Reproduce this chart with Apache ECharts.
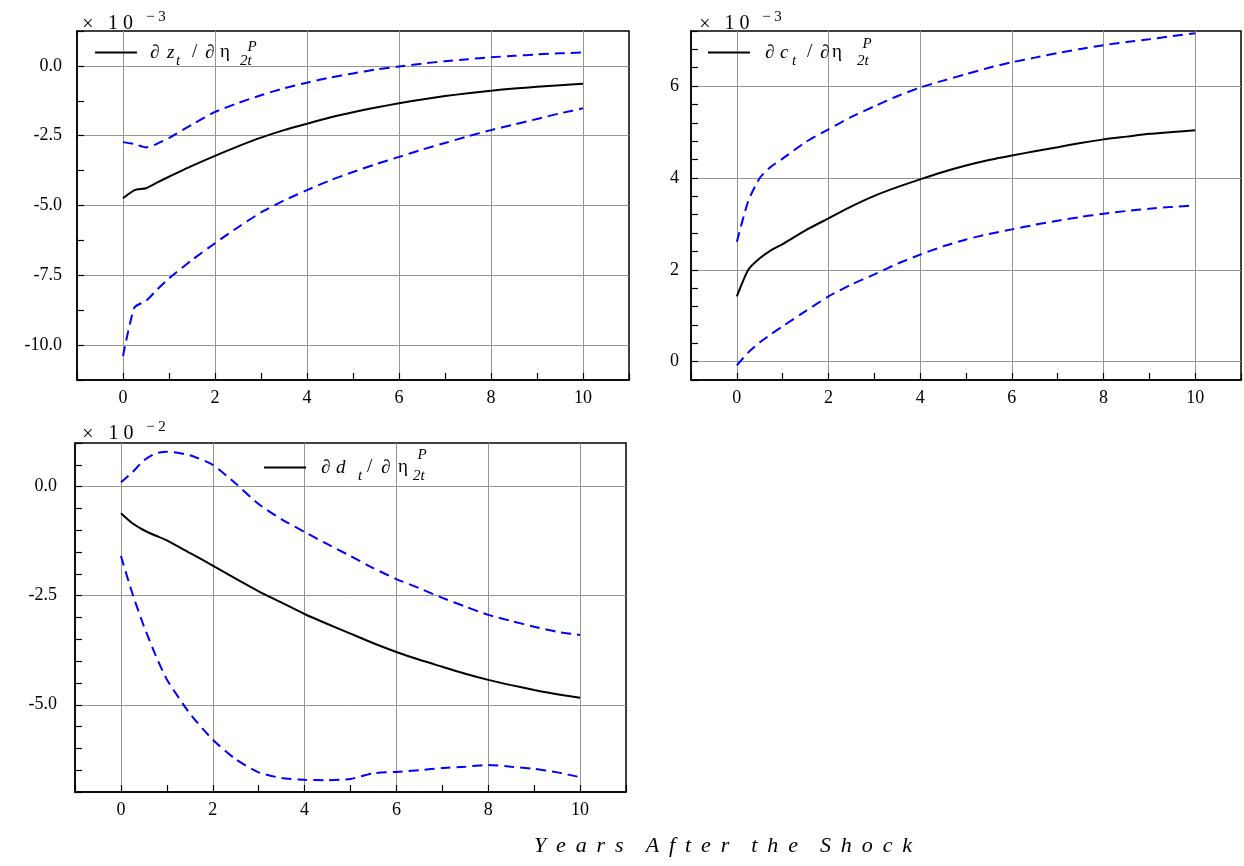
<!DOCTYPE html>
<html><head><meta charset="utf-8">
<script src="https://cdn.jsdelivr.net/npm/echarts@6/dist/echarts.min.js"></script>
<style>html,body{margin:0;padding:0;background:#fff}#c{width:1244px;height:866px}</style>
</head><body><div id="c"></div>
<script>
// ---- data ----
const years = [0,0.25,0.5,0.75,1,1.5,2,2.5,3,3.5,4,4.5,5,5.5,6,6.5,7,7.5,8,8.5,9,9.5,10];
// panel 1: dz/deta (x 10^-3)
const zMid = [-4.74,-4.45,-4.38,-4.17,-3.97,-3.58,-3.22,-2.88,-2.57,-2.30,-2.07,-1.85,-1.66,-1.49,-1.34,-1.20,-1.08,-0.98,-0.89,-0.81,-0.75,-0.69,-0.64];
const zHi  = [-2.73,-2.80,-2.92,-2.78,-2.58,-2.10,-1.65,-1.33,-1.05,-0.80,-0.60,-0.42,-0.27,-0.13,-0.02,0.08,0.17,0.24,0.31,0.36,0.41,0.45,0.48];
const zLo  = [-10.39,-8.65,-8.42,-8.00,-7.61,-6.95,-6.35,-5.78,-5.25,-4.82,-4.45,-4.10,-3.80,-3.52,-3.26,-3.00,-2.76,-2.52,-2.30,-2.10,-1.90,-1.70,-1.52];
// panel 2: dc/deta (x 10^-3)
const cMid = [1.42,2.00,2.25,2.43,2.56,2.86,3.12,3.38,3.61,3.80,3.97,4.13,4.27,4.39,4.49,4.58,4.67,4.76,4.84,4.90,4.96,5.00,5.04];
const cHi  = [2.61,3.50,4.00,4.25,4.42,4.78,5.06,5.33,5.56,5.78,5.97,6.12,6.26,6.40,6.52,6.62,6.72,6.81,6.89,6.96,7.02,7.09,7.15];
const cLo  = [-0.08,0.20,0.42,0.60,0.77,1.10,1.42,1.68,1.90,2.13,2.33,2.51,2.66,2.78,2.88,2.98,3.07,3.15,3.22,3.28,3.33,3.37,3.40];
// panel 3: dd/deta (x 10^-2)
const dMid = [-0.61,-0.84,-1.00,-1.12,-1.23,-1.52,-1.81,-2.11,-2.40,-2.66,-2.92,-3.15,-3.37,-3.59,-3.79,-3.97,-4.13,-4.29,-4.43,-4.55,-4.66,-4.76,-4.84];
const dHi  = [0.10,0.33,0.60,0.76,0.80,0.72,0.50,0.07,-0.40,-0.75,-1.04,-1.32,-1.59,-1.87,-2.12,-2.33,-2.55,-2.75,-2.94,-3.08,-3.21,-3.33,-3.40];
const dLo  = [-1.59,-2.45,-3.20,-3.85,-4.42,-5.20,-5.80,-6.25,-6.55,-6.68,-6.72,-6.73,-6.70,-6.57,-6.54,-6.50,-6.45,-6.42,-6.38,-6.42,-6.47,-6.55,-6.66];
// tick labels
const xTickLabels = [0,2,4,6,8,10];
const zTickLabels = ['0.0','-2.5','-5.0','-7.5','-10.0'];
const cTickLabels = ['0','2','4','6'];
const dTickLabels = ['0.0','-2.5','-5.0'];
const xTitleWords = ['Years','After','the','Shock'];

// ---- chart ----
const SERIF = '"Liberation Serif","DejaVu Serif",serif';
const GRID = '#959595';
const T = 'rgba(0,0,0,0)';
const pairs = (xs, ys) => xs.map((x, i) => [x, ys[i]]);
const near = (a, b) => Math.abs(a - b) < 1e-6;

function xAxis(gi) {
  return {
    type: 'value', gridIndex: gi, min: -1, max: 11, interval: 1,
    axisLine: { show: true, onZero: false, lineStyle: { color: '#000', width: 1.5 } },
    axisTick: { show: true, inside: true, length: 7, lineStyle: { color: '#000', width: 1.2 } },
    axisLabel: {
      margin: 9, color: '#000', fontFamily: SERIF, fontSize: 18,
      formatter: v => { const f = xTickLabels.find(t => near(t, v)); return f === undefined ? '' : String(f); }
    },
    splitLine: { show: true, showMinLine: true, showMaxLine: true, lineStyle: { color: [T, GRID], width: 1 } }
  };
}
function yAxis(gi, min, max, interval, period, offsetIdx, labels, margin) {
  const colors = [];
  for (let i = 0; i < period; i++) colors.push(i === offsetIdx ? GRID : T);
  return {
    type: 'value', gridIndex: gi, min: min, max: max, interval: interval,
    axisLine: { show: true, onZero: false, lineStyle: { color: '#000', width: 1.5 } },
    axisTick: { show: true, inside: true, length: 7, lineStyle: { color: '#000', width: 1.2 } },
    axisLabel: {
      margin: margin, color: '#000', fontFamily: SERIF, fontSize: 18,
      formatter: v => { const f = labels.find(t => near(parseFloat(t), v)); return f === undefined ? '' : f; }
    },
    splitLine: { show: true, showMinLine: true, showMaxLine: true, lineStyle: { color: colors, width: 1 } }
  };
}
function mid(name, gi, ys) {
  return { name: name, type: 'line', xAxisIndex: gi, yAxisIndex: gi, data: pairs(years, ys),
    symbol: 'none', showSymbol: false, smooth: 0.2, silent: true,
    lineStyle: { color: '#000', width: 2 }, itemStyle: { color: '#000' } };
}
function band(name, gi, ys) {
  return { name: name, type: 'line', xAxisIndex: gi, yAxisIndex: gi, data: pairs(years, ys),
    symbol: 'none', showSymbol: false, smooth: 0.2, silent: true,
    lineStyle: { color: '#0000ff', width: 2, type: [10, 6] }, itemStyle: { color: '#0000ff' } };
}
const richBase = {
  m: { fontFamily: SERIF, fontSize: 19, fontStyle: 'italic', color: '#000', lineHeight: 32, verticalAlign: 'middle' },
  s: { fontFamily: SERIF, fontSize: 15, fontStyle: 'italic', color: '#000', lineHeight: 14, verticalAlign: 'bottom' }
};
function legendRich(w) {
  return {
    sp: { width: w[0], lineHeight: 32 },
    a: Object.assign({}, richBase.m, { width: w[1] }),
    v: Object.assign({}, richBase.m, { width: w[2] }),
    t: Object.assign({}, richBase.s, { width: w[3] }),
    sl: Object.assign({}, richBase.m, { width: w[4], fontStyle: 'normal' }),
    b: Object.assign({}, richBase.m, { width: w[5] }),
    e: Object.assign({}, richBase.m, { width: w[6], fontStyle: 'normal' }),
    s: richBase.s
  };
}
function legend(name, left, top, v, w) {
  return {
    data: [name], left: left, top: top, padding: 0, icon: 'rect', itemWidth: 42, itemHeight: 2,
    selectedMode: false,
    formatter: () => '{sp|\u00a0}{a|\u2202}{v|' + v + '}{t|t}{sl|/}{b|\u2202}{e|\u03b7}{s|2t}',
    textStyle: { rich: legendRich(w) }
  };
}
function txt(x, y, s, size, style) {
  return { type: 'text', x: x, y: y, silent: true,
    style: { text: s, fill: '#000', font: (style || '') + ' ' + size + 'px ' + SERIF, align: 'center', verticalAlign: 'middle' } };
}
const spacedTitle = xTitleWords.map(w => w.split('').join(' \u2009')).join('\u2002\u2002');

const option = {
  animation: false,
  backgroundColor: '#fff',
  grid: [
    { left: 77, top: 31, width: 552, height: 349, show: true, borderColor: '#000', borderWidth: 1.5, containLabel: false },
    { left: 691, top: 31, width: 552, height: 349, show: true, borderColor: '#000', borderWidth: 1.5, containLabel: false },
    { left: 75, top: 443, width: 551, height: 349, show: true, borderColor: '#000', borderWidth: 1.5, containLabel: false }
  ],
  xAxis: [xAxis(0), xAxis(1), xAxis(2)],
  yAxis: [
    yAxis(0, -11.25, 1.25, 1.25, 2, 1, zTickLabels, 15),
    yAxis(1, -0.4, 7.2, 0.4, 5, 1, cTickLabels, 12),
    yAxis(2, -7, 1, 0.5, 5, 4, dTickLabels, 18)
  ],
  legend: [
    legend('dz', 95, 43, 'z', [8, 17, 9, 16, 13, 15, 20]),
    legend('dc', 708, 43, 'c', [10, 15, 12, 15, 13, 12, 25]),
    legend('dd', 264, 458, 'd', [10, 15, 22, 9, 14, 17, 15])
  ],
  graphic: [
    txt(88, 25, '\u00d7', 20), txt(120.5, 23.5, '1 0', 20), txt(156, 17, '\u2212 3', 15),
    txt(705, 25, '\u00d7', 20), txt(737, 23.5, '1 0', 20), txt(772, 17, '\u2212 3', 15),
    txt(88, 435, '\u00d7', 20), txt(121, 433.5, '1 0', 20), txt(156, 427, '\u2212 2', 15),
    txt(252, 47, 'P', 15, 'italic'), txt(867, 44, 'P', 15, 'italic'), txt(422, 455, 'P', 15, 'italic'),
    txt(723, 846, spacedTitle, 22, 'italic')
  ],
  series: [
    mid('dz', 0, zMid), band('zHi', 0, zHi), band('zLo', 0, zLo),
    mid('dc', 1, cMid), band('cHi', 1, cHi), band('cLo', 1, cLo),
    mid('dd', 2, dMid), band('dHi', 2, dHi), band('dLo', 2, dLo)
  ]
};
const chart = echarts.init(document.getElementById('c'));
chart.setOption(option);
</script>
</body></html>
